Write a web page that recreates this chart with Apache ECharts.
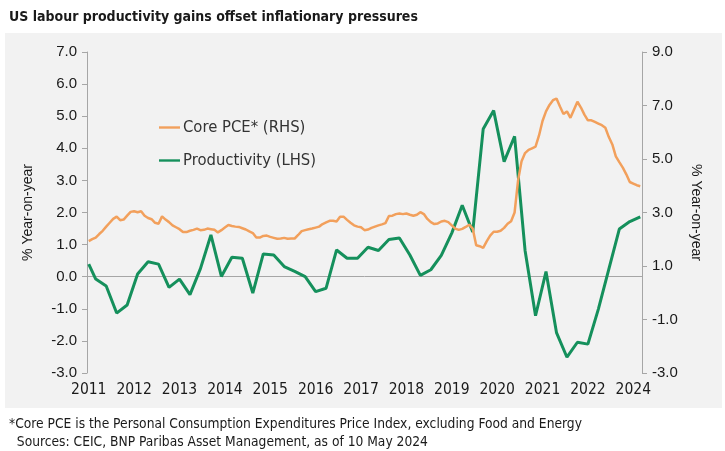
<!DOCTYPE html>
<html>
<head>
<meta charset="utf-8">
<script src="https://cdn.jsdelivr.net/npm/echarts@6/dist/echarts.min.js"></script>
<style>
  html, body { margin: 0; padding: 0; background: #ffffff; }
  #chart { width: 725px; height: 451px; }
</style>
</head>
<body>
<div id="chart"></div>
<script>
var dom = document.getElementById('chart');
var myChart = echarts.init(dom);
var option;

// monthly categories, Jan 2011 .. Mar 2024
var months = [];
for (var y = 2011; y <= 2024; y++) {
    for (var m = 1; m <= 12; m++) {
        if (y === 2024 && m > 3) break;
        months.push(y + '-' + (m < 10 ? '0' + m : m));
    }
}

// Core PCE, % y/y, monthly
var corePce = [
    1.11, 1.17, 1.22, 1.33, 1.43, 1.56, 1.68, 1.80, 1.87, 1.76, 1.78, 1.90,
    2.02, 2.04, 2.01, 2.04, 1.90, 1.83, 1.79, 1.68, 1.65, 1.88, 1.78, 1.70,
    1.60, 1.54, 1.48, 1.39, 1.39, 1.43, 1.46, 1.50, 1.45, 1.46, 1.50, 1.48,
    1.46, 1.38, 1.45, 1.53, 1.61, 1.58, 1.56, 1.55, 1.51, 1.47, 1.41, 1.36,
    1.22, 1.22, 1.27, 1.28, 1.24, 1.21, 1.18, 1.19, 1.21, 1.18, 1.19, 1.19,
    1.30, 1.42, 1.45, 1.48, 1.50, 1.53, 1.56, 1.64, 1.69, 1.74, 1.74, 1.72,
    1.87, 1.87, 1.77, 1.68, 1.60, 1.56, 1.54, 1.45, 1.47, 1.52, 1.56, 1.60,
    1.63, 1.67, 1.89, 1.90, 1.95, 1.97, 1.95, 1.97, 1.93, 1.90, 1.93, 2.01,
    1.95, 1.80, 1.70, 1.64, 1.66, 1.72, 1.74, 1.70, 1.60, 1.50, 1.46, 1.49,
    1.55, 1.62, 1.50, 0.98, 0.95, 0.90, 1.10, 1.28, 1.40, 1.40, 1.43, 1.52,
    1.65, 1.73, 2.00, 3.00, 3.60, 3.85, 3.95, 4.00, 4.05, 4.40, 4.85, 5.15,
    5.35, 5.50, 5.55, 5.30, 5.07, 5.15, 4.95, 5.20, 5.45, 5.27, 5.05, 4.87,
    4.87, 4.82, 4.77, 4.72, 4.64, 4.35, 4.12, 3.75, 3.57, 3.40, 3.19, 2.95,
    2.90, 2.85, 2.82
];

// Productivity, % y/y, quarterly
var productivityDates = [
    '2011-01',
    '2011-03', '2011-06', '2011-09', '2011-12',
    '2012-03', '2012-06', '2012-09', '2012-12',
    '2013-03', '2013-06', '2013-09', '2013-12',
    '2014-03', '2014-06', '2014-09', '2014-12',
    '2015-03', '2015-06', '2015-09', '2015-12',
    '2016-03', '2016-06', '2016-09', '2016-12',
    '2017-03', '2017-06', '2017-09', '2017-12',
    '2018-03', '2018-06', '2018-09', '2018-12',
    '2019-03', '2019-06', '2019-09', '2019-12',
    '2020-03', '2020-06', '2020-09', '2020-12',
    '2021-03', '2021-06', '2021-09', '2021-12',
    '2022-03', '2022-06', '2022-09', '2022-12',
    '2023-03', '2023-06', '2023-09', '2023-12',
    '2024-03'
];
var productivity = [
    1.07,
    0.51, 0.25, -0.76, -0.46,
    0.70, 1.16, 1.07, 0.20,
    0.51, -0.07, 0.90, 2.16,
    0.61, 1.33, 1.29, -0.01,
    1.45, 1.41, 0.98, 0.80,
    0.60, 0.04, 0.17, 1.60,
    1.29, 1.29, 1.70, 1.58,
    1.99, 2.05, 1.41, 0.65,
    0.86, 1.40, 2.23, 3.27,
    2.27, 6.12, 6.81, 4.90,
    5.85, 1.58, -0.86, 0.79,
    -1.49, -2.41, -1.85, -1.92,
    -0.61, 0.88, 2.38, 2.66,
    2.84
];

var prodData = productivityDates.map(function (d, idx) {
    return [months.indexOf(d), productivity[idx]];
});

var FONT = '"DejaVu Sans Condensed", "Liberation Sans", sans-serif';
var NUMFONT = '"Liberation Sans", sans-serif';

option = {
    backgroundColor: '#ffffff',
    animation: false,
    graphic: [{
        type: 'rect',
        left: 5, top: 33,
        shape: { width: 717, height: 375 },
        style: { fill: '#f2f2f2' },
        z: -10
    }],
    title: [{
        text: 'US labour productivity gains offset inflationary pressures',
        left: 4, top: 5,
        textStyle: { fontFamily: FONT, fontSize: 14, fontWeight: 'bold', color: '#1a1a1a' }
    }, {
        text: '*Core PCE is the Personal Consumption Expenditures Price Index, excluding Food and Energy\n  Sources: CEIC, BNP Paribas Asset Management, as of 10 May 2024',
        left: 4, top: 410,
        textStyle: { fontFamily: FONT, fontSize: 13.7, fontWeight: 'normal', color: '#1a1a1a', lineHeight: 18 }
    }],
    legend: {
        orient: 'vertical',
        left: 154, top: 114,
        itemWidth: 21, itemHeight: 14, itemGap: 16,
        icon: 'path://M0,6 L22,6 L22,8.5 L0,8.5 Z',
        textStyle: { fontFamily: FONT, fontSize: 16.5, color: '#333333', padding: [0, 0, 0, -2] },
        data: ['Core PCE* (RHS)', 'Productivity (LHS)']
    },
    grid: { left: 87, right: 83, top: 52, bottom: 78 },
    xAxis: {
        type: 'category',
        data: months,
        boundaryGap: true,
        axisLine: { lineStyle: { color: '#a6a6a6' } },
        axisTick: { interval: 12, alignWithLabel: true, length: 5, lineStyle: { color: '#a6a6a6' } },
        axisLabel: {
            interval: 12,
            margin: 9,
            fontFamily: FONT, fontSize: 15.5, color: '#1a1a1a',
            formatter: function (v) { return v.slice(0, 4); }
        },
        splitLine: { show: false }
    },
    yAxis: [{
        type: 'value',
        min: -3, max: 7, interval: 1,
        name: '% Year-on-year',
        nameLocation: 'middle',
        nameRotate: 90,
        nameGap: 52,
        nameTextStyle: { fontFamily: NUMFONT, fontSize: 14, color: '#1a1a1a' },
        axisLine: { show: true, lineStyle: { color: '#a6a6a6' } },
        axisTick: { show: true, length: 5, lineStyle: { color: '#a6a6a6' } },
        axisLabel: {
            margin: 10,
            fontFamily: NUMFONT, fontSize: 15, color: '#1a1a1a',
            formatter: function (v) { return v.toFixed(1); }
        },
        splitLine: { show: false }
    }, {
        type: 'value',
        position: 'right',
        min: -3, max: 9, interval: 2,
        name: '% Year-on-year',
        nameLocation: 'middle',
        nameRotate: -90,
        nameGap: 46,
        nameTextStyle: { fontFamily: NUMFONT, fontSize: 14, color: '#1a1a1a' },
        axisLine: { show: true, lineStyle: { color: '#a6a6a6' } },
        axisTick: { show: true, length: 5, lineStyle: { color: '#a6a6a6' } },
        axisLabel: {
            margin: 10,
            fontFamily: NUMFONT, fontSize: 15, color: '#1a1a1a',
            formatter: function (v) { return v.toFixed(1); }
        },
        splitLine: { show: false }
    }],
    series: [{
        name: 'Core PCE* (RHS)',
        type: 'line',
        yAxisIndex: 0,
        data: corePce,
        showSymbol: false,
        symbol: 'none',
        lineStyle: { color: '#f2a05c', width: 2.5 },
        itemStyle: { color: '#f2a05c' },
        z: 3
    }, {
        name: 'Productivity (LHS)',
        type: 'line',
        yAxisIndex: 1,
        data: prodData,
        showSymbol: false,
        symbol: 'none',
        lineStyle: { color: '#15905c', width: 3 },
        itemStyle: { color: '#15905c' },
        z: 2
    }]
};

if (option && typeof option === 'object') {
    myChart.setOption(option);
}
</script>
</body>
</html>
